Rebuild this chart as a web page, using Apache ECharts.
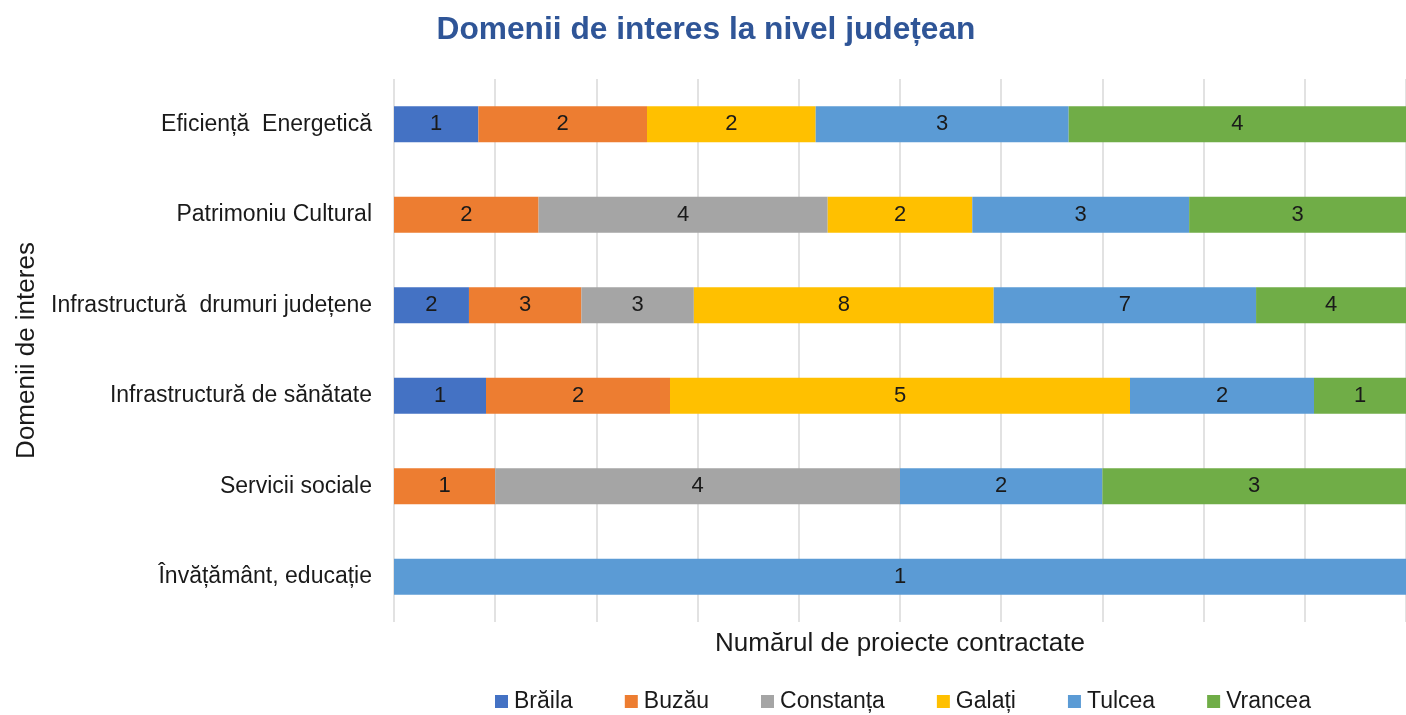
<!DOCTYPE html>
<html>
<head>
<meta charset="utf-8">
<title>Domenii de interes la nivel județean</title>
<script src="https://cdn.jsdelivr.net/npm/echarts@6/dist/echarts.min.js"></script>
<style>
  html, body { margin: 0; padding: 0; background: #fff; }
  #chart { width: 1406px; height: 715px; }
</style>
</head>
<body>
<div id="chart"></div>
<script>
// categories, top to bottom
var categories = ['Eficiență  Energetică', 'Patrimoniu Cultural', 'Infrastructură  drumuri județene',
  'Infrastructură de sănătate', 'Servicii sociale', 'Învățământ, educație'];

// number of projects per county (same order as categories)
var braila    = [1, 0, 2, 1, 0, 0];
var buzau     = [2, 2, 3, 2, 1, 0];
var constanta = [0, 4, 3, 0, 4, 0];
var galati    = [2, 2, 8, 5, 0, 0];
var tulcea    = [3, 3, 7, 2, 2, 1];
var vrancea   = [4, 3, 4, 1, 3, 0];

var seriesNames = ['Brăila', 'Buzău', 'Constanța', 'Galați', 'Tulcea', 'Vrancea'];
var seriesValues = [braila, buzau, constanta, galati, tulcea, vrancea];
var colors = ['#4472C4', '#ED7D31', '#A5A5A5', '#FFC000', '#5B9BD5', '#70AD47'];

var FONT = '"Liberation Sans", Arial, sans-serif';

// row totals, used to turn counts into a 100% stack
var totals = categories.map(function (c, i) {
  var s = 0;
  seriesValues.forEach(function (arr) { s += arr[i]; });
  return s;
});

var series = seriesNames.map(function (name, k) {
  var raw = seriesValues[k];
  return {
    name: name,
    type: 'bar',
    stack: 'total',
    barWidth: 36,
    itemStyle: { color: colors[k] },
    label: {
      show: true,
      position: 'inside',
      color: '#1a1a1a',
      fontFamily: FONT,
      fontSize: 22,
      formatter: function (p) { return raw[p.dataIndex]; }
    },
    data: raw.map(function (v, i) { return v ? v / totals[i] * 100 : null; })
  };
});

var chart = echarts.init(document.getElementById('chart'));
chart.setOption({
  animation: false,
  title: {
    text: 'Domenii de interes la nivel județean',
    left: 701,
    textAlign: 'center',
    top: 9,
    textStyle: { fontFamily: FONT, fontSize: 31.7, fontWeight: 'bold', color: '#2F5597' }
  },
  legend: {
    data: seriesNames,
    left: 490,
    top: 685,
    itemWidth: 13,
    itemHeight: 13,
    itemGap: 52,
    icon: 'rect',
    textStyle: { fontFamily: FONT, fontSize: 23, color: '#1a1a1a', padding: [0, 0, 0, 1] }
  },
  grid: { left: 394, right: 0, top: 79, bottom: 93 },
  xAxis: {
    type: 'value',
    min: 0,
    max: 100,
    interval: 10,
    name: 'Numărul de proiecte contractate',
    nameLocation: 'middle',
    nameGap: 9,
    nameTextStyle: { fontFamily: FONT, fontSize: 26, color: '#1a1a1a', verticalAlign: 'top' },
    axisLine: { show: false },
    axisTick: { show: false },
    axisLabel: { show: false },
    splitLine: { show: true, lineStyle: { color: '#D9D9D9', width: 1.5 } }
  },
  yAxis: {
    type: 'category',
    inverse: true,
    data: categories,
    name: 'Domenii de interes',
    nameLocation: 'middle',
    nameGap: 347,
    nameTextStyle: { fontFamily: FONT, fontSize: 26, color: '#1a1a1a' },
    axisLine: { show: false },
    axisTick: { show: false },
    axisLabel: { margin: 22, fontFamily: FONT, fontSize: 23, color: '#1a1a1a' },
    splitLine: { show: false }
  },
  series: series
});
</script>
</body>
</html>
